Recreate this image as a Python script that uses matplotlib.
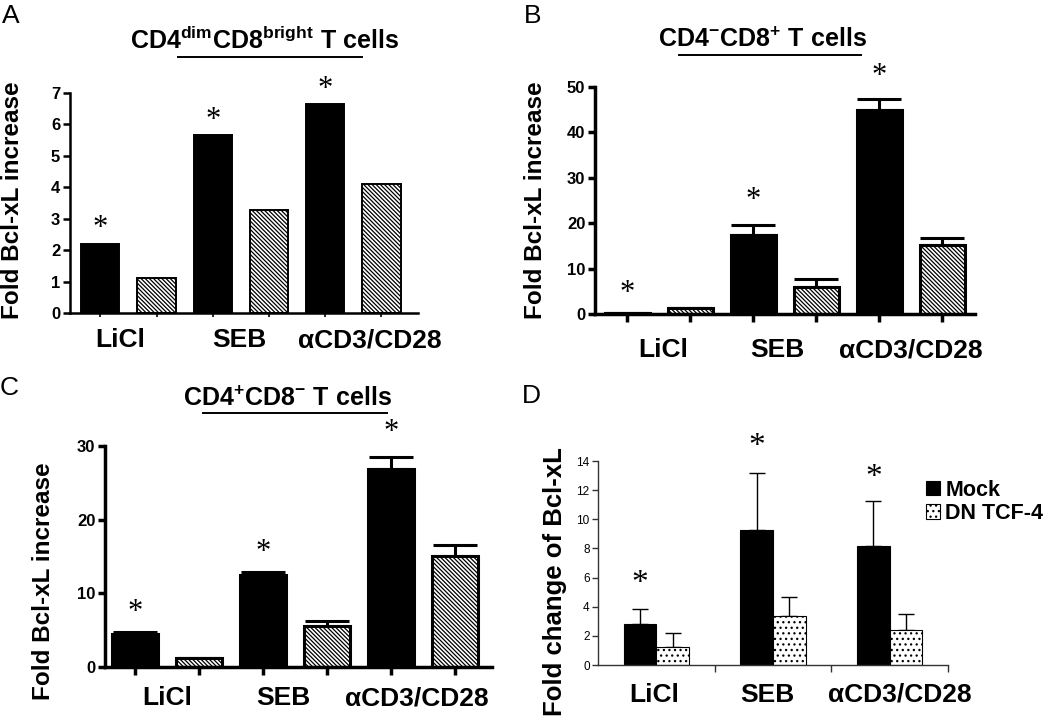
import matplotlib
matplotlib.use("Agg")
import matplotlib.pyplot as plt
from matplotlib import font_manager
from matplotlib.lines import Line2D

# Dane
kategorie = ["LiCl", "SEB", "αCD3/CD28"]

a_czarne = [2.21, 5.66, 6.65]
a_kreskowane = [1.12, 3.27, 4.10]

b_czarne = [0.2, 17.3, 45.0]
b_czarne_err = [0.0, 2.3, 2.4]
b_kreskowane = [1.3, 5.9, 15.3]
b_kreskowane_err = [0.0, 1.7, 1.4]

c_czarne = [4.5, 12.5, 26.9]
c_czarne_err = [0.2, 0.4, 1.6]
c_kreskowane = [1.2, 5.5, 15.1]
c_kreskowane_err = [0.0, 0.75, 1.4]

d_mock = [2.81, 9.25, 8.18]
d_mock_err = [1.05, 3.93, 3.06]
d_tcf = [1.21, 3.36, 2.37]
d_tcf_err = [0.96, 1.30, 1.12]
d_legenda = ["Mock", "DN TCF-4"]

# Czcionki
nazwy = {f.name for f in font_manager.fontManager.ttflist}
SANS = "Liberation Sans" if "Liberation Sans" in nazwy else "DejaVu Sans"
NARROW = "Liberation Sans Narrow" if "Liberation Sans Narrow" in nazwy else SANS
SERIF = "Liberation Serif" if "Liberation Serif" in nazwy else "DejaVu Serif"

plt.rcParams["font.family"] = [SANS, "DejaVu Sans"]
plt.rcParams["mathtext.fontset"] = "custom"
plt.rcParams["mathtext.rm"] = SANS + ":bold"
plt.rcParams["mathtext.bf"] = SANS + ":bold"
plt.rcParams["mathtext.it"] = SANS + ":bold"
plt.rcParams["hatch.linewidth"] = 0.9

W, H = 1050, 716
fig = plt.figure(figsize=(W / 100, H / 100), dpi=100)


def box(l, t, r, b):
    return [l / W, 1 - b / H, (r - l) / W, (b - t) / H]


def px(x, y):
    return x / W, 1 - y / H


HATCH = "\\" * 8


def gwiazdka(ax, x, y, dy, size=22):
    ax.annotate("*", xy=(x, y), xytext=(0, dy), textcoords="offset pixels",
                ha="center", va="center", fontsize=size, family=SERIF)


def etykiety_x(ax, pozycje, przes, dy, size=19):
    for k, x, dx in zip(kategorie, pozycje, przes):
        ax.annotate(k, xy=(x, 0), xycoords=("data", "axes fraction"),
                    xytext=(dx, -dy), textcoords="offset pixels",
                    ha="center", va="center", fontsize=size, fontweight="bold",
                    family=[SANS, "DejaVu Sans"])


def prism(ax, lw):
    for s in ["top", "right"]:
        ax.spines[s].set_visible(False)
    for s in ["left", "bottom"]:
        ax.spines[s].set_linewidth(lw)
    ax.tick_params(axis="y", direction="out", length=5, width=lw, pad=2)
    for t in ax.get_yticklabels():
        t.set_fontfamily(NARROW)
        t.set_fontweight("bold")
        t.set_fontsize(12)


poz_czarne = [0, 2, 4]
poz_kresk = [1, 3, 5]
srodki = [0.5, 2.5, 4.5]

# ---------- A ----------
axA = fig.add_axes(box(70, 93, 418, 313))
axA.bar(poz_czarne, a_czarne, width=0.68, color="black", edgecolor="black", lw=1.4)
axA.bar(poz_kresk, a_kreskowane, width=0.68, color="white", edgecolor="black",
        hatch=HATCH, lw=1.4)
axA.set_xlim(-0.54, 5.65)
axA.set_ylim(0, 7)
axA.set_yticks(range(0, 8))
axA.set_xticks(range(6))
axA.set_xticklabels([])
prism(axA, 1.8)
axA.tick_params(axis="x", direction="out", length=3, width=1.2)
for x, y in zip(poz_czarne, a_czarne):
    gwiazdka(axA, x, y, 15)
etykiety_x(axA, srodki, [-8, -2, 16], 27)

# ---------- B ----------
axB = fig.add_axes(box(595, 87, 975, 314))
axB.errorbar(poz_czarne, b_czarne, yerr=[[0] * 3, b_czarne_err], fmt="none",
             ecolor="black", elinewidth=2.2, capsize=16, capthick=2.2, zorder=1)
axB.errorbar(poz_kresk, b_kreskowane, yerr=[[0] * 3, b_kreskowane_err], fmt="none",
             ecolor="black", elinewidth=2.2, capsize=16, capthick=2.2, zorder=1)
axB.bar(poz_czarne, b_czarne, width=0.71, color="black", edgecolor="black", lw=2.2, zorder=2)
axB.bar(poz_kresk, b_kreskowane, width=0.71, color="white", edgecolor="black",
        hatch=HATCH, lw=2.2, zorder=2)
axB.set_xlim(-0.51, 5.52)
axB.set_ylim(0, 50)
axB.set_yticks(range(0, 51, 10))
axB.set_xticks(range(6))
axB.set_xticklabels([])
prism(axB, 2.5)
axB.tick_params(axis="x", direction="out", length=6, width=2.5)
b_gora = [v + e for v, e in zip(b_czarne, b_czarne_err)]
for x, y, dy in zip(poz_czarne, b_gora, [20, 25, 22]):
    gwiazdka(axB, x, y, dy)
etykiety_x(axB, srodki, [5, -7, 0], 36)

# ---------- C ----------
axC = fig.add_axes(box(105, 446, 492, 667))
axC.errorbar(poz_czarne, c_czarne, yerr=[[0] * 3, c_czarne_err], fmt="none",
             ecolor="black", elinewidth=2.2, capsize=16, capthick=2.2, zorder=1)
axC.errorbar(poz_kresk, c_kreskowane, yerr=[[0] * 3, c_kreskowane_err], fmt="none",
             ecolor="black", elinewidth=2.2, capsize=16, capthick=2.2, zorder=1)
axC.bar(poz_czarne, c_czarne, width=0.72, color="black", edgecolor="black", lw=2.2, zorder=2)
axC.bar(poz_kresk, c_kreskowane, width=0.72, color="white", edgecolor="black",
        hatch=HATCH, lw=2.2, zorder=2)
axC.set_xlim(-0.47, 5.58)
axC.set_ylim(0, 30)
axC.set_yticks([0, 10, 20, 30])
axC.set_xticks(range(6))
axC.set_xticklabels([])
prism(axC, 2.5)
axC.tick_params(axis="x", direction="out", length=6, width=2.5)
c_gora = [v + e for v, e in zip(c_czarne, c_czarne_err)]
for x, y, dy in zip(poz_czarne, c_gora, [20, 19, 25]):
    gwiazdka(axC, x, y, dy)
etykiety_x(axC, srodki, [0, -12, -6], 31)

# ---------- D ----------
axD = fig.add_axes(box(598, 461, 948, 665))
grupy = range(len(kategorie))
xm = [g - 0.14 for g in grupy]
xt = [g + 0.14 for g in grupy]
axD.errorbar(xm, d_mock, yerr=[[0] * 3, d_mock_err], fmt="none", ecolor="black",
             elinewidth=1, capsize=6, capthick=1, zorder=1)
axD.errorbar(xt, d_tcf, yerr=[[0] * 3, d_tcf_err], fmt="none", ecolor="black",
             elinewidth=1, capsize=6, capthick=1, zorder=1)
bm = axD.bar(xm, d_mock, width=0.28, color="black", edgecolor="black", lw=0.8,
             zorder=2, label=d_legenda[0])
bt = axD.bar(xt, d_tcf, width=0.28, color="white", edgecolor="black", lw=0.8,
             hatch="...", zorder=2, label=d_legenda[1])
axD.set_xlim(-0.5, 2.5)
axD.set_ylim(0, 14)
axD.set_yticks(range(0, 15, 2))
axD.set_xticks([0.5, 1.5, 2.5])
axD.set_xticklabels([])
for s in ["top", "right"]:
    axD.spines[s].set_visible(False)
for s in ["left", "bottom"]:
    axD.spines[s].set_linewidth(1)
    axD.spines[s].set_color("#333333")
axD.tick_params(axis="y", direction="out", length=4, width=1, labelsize=8.5, pad=2,
                color="#333333")
axD.tick_params(axis="x", direction="out", length=5, width=1, color="#333333")
d_gora = [v + e for v, e in zip(d_mock, d_mock_err)]
for x, y, dy in zip(xm, d_gora, [25, 26, 23]):
    gwiazdka(axD, x, y, dy, size=24)
etykiety_x(axD, list(grupy), [-2, -6, 10], 30)
fig.legend(handles=[bm, bt], labels=d_legenda, loc="upper left",
           bbox_to_anchor=px(915, 469), frameon=False,
           prop={"family": SANS, "weight": "bold", "size": 15.5},
           handlelength=0.65, handleheight=0.65, handletextpad=0.25,
           labelspacing=0.1, borderpad=0)

# ---------- opisy osi, tytuły, litery ----------
ylab = dict(rotation=90, ha="center", va="center", fontsize=17.5, fontweight="bold")
fig.text(*px(13, 200), "Fold Bcl-xL increase", **ylab)
fig.text(*px(535, 200), "Fold Bcl-xL increase", **ylab)
fig.text(*px(44, 581), "Fold Bcl-xL increase", **ylab)
fig.text(*px(555, 582), "Fold change of Bcl-xL", fontsize=18.5, rotation=90,
         ha="center", va="center", fontweight="bold")

tyt = dict(ha="center", va="baseline", fontsize=18)
fig.text(*px(265, 49), r"$\mathrm{CD4^{dim}CD8^{bright}\ T\ cells}$", **tyt)
fig.text(*px(763, 47), r"$\mathrm{CD4^{-}CD8^{+}\ T\ cells}$", **tyt)
fig.text(*px(288, 406), r"$\mathrm{CD4^{+}CD8^{-}\ T\ cells}$", **tyt)

for (x0, x1, y) in [(178, 362, 57), (679, 861, 55), (203, 387, 413)]:
    (a0, b0), (a1, b1) = px(x0, y), px(x1, y)
    fig.add_artist(Line2D([a0, a1], [b0, b1], color="black", lw=1.4))

lit = dict(ha="left", va="top", fontsize=19)
fig.text(*px(2, 4), "A", **lit)
fig.text(*px(524, 4), "B", **lit)
fig.text(*px(0, 376), "C", **lit)
fig.text(*px(522, 384), "D", **lit)

fig.savefig("out.png", dpi=100)
